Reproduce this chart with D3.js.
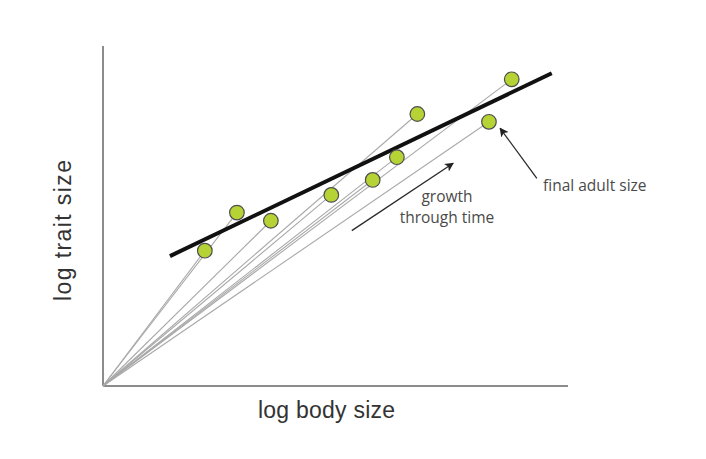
<!DOCTYPE html>
<html>
<head>
<meta charset="utf-8">
<script src="https://cdn.jsdelivr.net/npm/d3@7"></script>
<style>
  body { margin: 0; background: #fff; }
  .axis-label { font-family: "Liberation Sans", Arial, sans-serif; font-size: 23px; fill: #333; }
  .note { font-family: "Open Sans", "Noto Sans", sans-serif; font-size: 15.5px; fill: #4a4a4a; }
</style>
</head>
<body>
<svg id="chart" width="706" height="459"></svg>
<script>
// final adult sizes (log body size, log trait size) in arbitrary units 0-10
const bodySize = [2.19, 2.88, 3.61, 4.91, 5.80, 6.32, 6.76, 8.30, 8.79];
const traitSize = [3.98, 5.10, 4.86, 5.62, 6.06, 6.73, 8.00, 7.77, 9.02];

// static allometry fit line endpoints
const fitX = [1.44, 9.65];
const fitY = [3.82, 9.20];

// annotation arrows: [x1, y1, x2, y2]
const growthArrow = [5.35, 4.57, 7.53, 6.55];
const adultArrow = [9.33, 6.11, 8.54, 7.58];

const growthLines = ["growth", "through time"];
const adultLabel = "final adult size";

const width = 706;
const height = 459;
const margin = { top: 46, right: 138, bottom: 73, left: 103 };

const svg = d3.select("#chart");

const x = d3.scaleLinear().domain([0, 10]).range([margin.left, width - margin.right]);
const y = d3.scaleLinear().domain([0, 10]).range([height - margin.bottom, margin.top]);

const defs = svg.append("defs");
defs.append("marker")
  .attr("id", "head")
  .attr("viewBox", "0 0 10 10")
  .attr("refX", 9)
  .attr("refY", 5)
  .attr("markerWidth", 9)
  .attr("markerHeight", 9)
  .attr("markerUnits", "userSpaceOnUse")
  .attr("orient", "auto")
  .append("path")
  .attr("d", "M0,0 L10,5 L0,10 L2.5,5 Z")
  .attr("fill", "#222");

// axes as plain lines, no ticks
svg.append("line")
  .attr("x1", x(0)).attr("y1", y(0))
  .attr("x2", x(0)).attr("y2", y(10))
  .attr("stroke", "#8c8c8c").attr("stroke-width", 2);
svg.append("line")
  .attr("x1", x(0)).attr("y1", y(0))
  .attr("x2", x(10)).attr("y2", y(0))
  .attr("stroke", "#8c8c8c").attr("stroke-width", 2);

const points = bodySize.map((b, i) => ({ b, t: traitSize[i] }));

// growth trajectories from the origin
svg.append("g")
  .selectAll("line")
  .data(points)
  .join("line")
  .attr("x1", x(0)).attr("y1", y(0))
  .attr("x2", (d) => x(d.b)).attr("y2", (d) => y(d.t))
  .attr("stroke", "#a9a9a9")
  .attr("stroke-width", 1.1);

svg.append("line")
  .attr("x1", x(fitX[0])).attr("y1", y(fitY[0]))
  .attr("x2", x(fitX[1])).attr("y2", y(fitY[1]))
  .attr("stroke", "#111")
  .attr("stroke-width", 4);

svg.append("g")
  .selectAll("circle")
  .data(points)
  .join("circle")
  .attr("cx", (d) => x(d.b))
  .attr("cy", (d) => y(d.t))
  .attr("r", 7.3)
  .attr("fill", "#b6d335")
  .attr("stroke", "#4d4d4d")
  .attr("stroke-width", 1.2);

[growthArrow, adultArrow].forEach((a) => {
  svg.append("line")
    .attr("x1", x(a[0])).attr("y1", y(a[1]))
    .attr("x2", x(a[2])).attr("y2", y(a[3]))
    .attr("stroke", "#2a2a2a")
    .attr("stroke-width", 1.3)
    .attr("marker-end", "url(#head)");
});

svg.append("text")
  .attr("class", "note")
  .attr("x", 447)
  .attr("y", 201.5)
  .attr("text-anchor", "middle")
  .selectAll("tspan")
  .data(growthLines)
  .join("tspan")
  .attr("x", 447)
  .attr("dy", (d, i) => (i === 0 ? 0 : 21))
  .text((d) => d);

svg.append("text")
  .attr("class", "note")
  .attr("x", 543)
  .attr("y", 191)
  .text(adultLabel);

svg.append("text")
  .attr("class", "axis-label")
  .attr("x", 326.5)
  .attr("y", 418)
  .attr("text-anchor", "middle")
  .attr("textLength", 137)
  .attr("lengthAdjust", "spacing")
  .text("log body size");

svg.append("text")
  .attr("class", "axis-label")
  .attr("transform", "translate(71,230.5) rotate(-90)")
  .attr("text-anchor", "middle")
  .attr("textLength", 141)
  .attr("lengthAdjust", "spacing")
  .text("log trait size");
</script>
</body>
</html>
